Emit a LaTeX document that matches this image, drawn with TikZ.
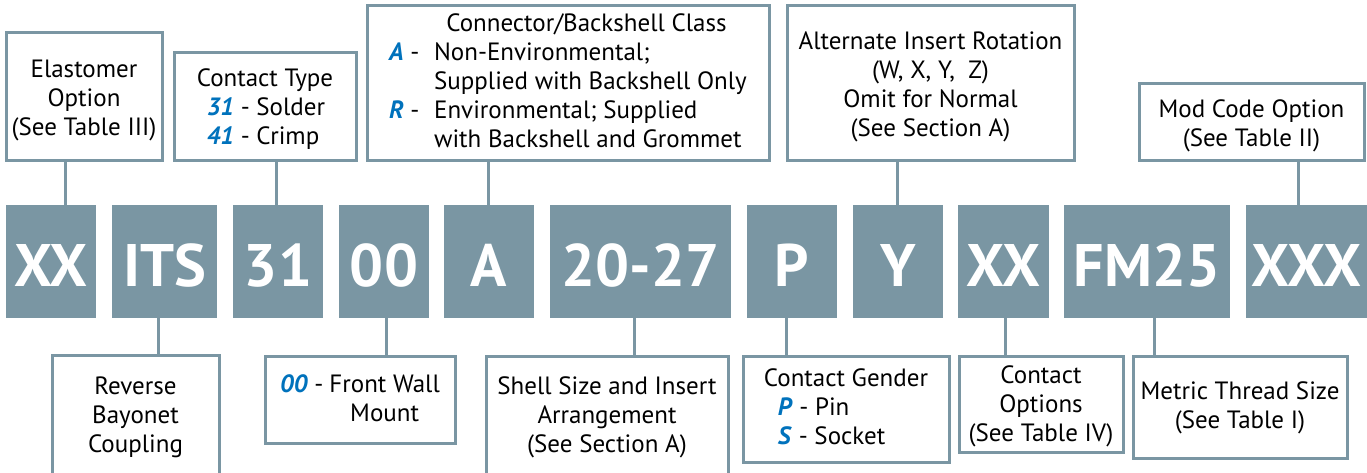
\documentclass[tikz,border=0pt]{standalone}
\usepackage{fontspec}
\setmainfont{PT Sans}
\definecolor{pgray}{RGB}{122,150,163}
\definecolor{pblue}{RGB}{0,114,188}
\newcommand{\bl}[1]{\textcolor{pblue}{\textbf{\textit{#1}}}}
\newcommand{\lowr}[2]{\raisebox{-#1}[\height][\depth]{#2}}
\begin{document}
\begin{tikzpicture}[x=1pt,y=-1pt,
  lbl/.style={draw=pgray, line width=3pt, fill=white, inner sep=0pt, outer sep=0pt,
    anchor=north west, align=center, text=black, font=\fontsize{25}{29}\selectfont},
  code/.style={fill=pgray, inner sep=0pt, outer sep=0pt, anchor=north west,
    minimum height=113pt, text=white, font=\fontsize{60}{60}\selectfont\bfseries,
    text height=49pt, text depth=0pt},
  conn/.style={draw=pgray, line width=3pt}]
\useasboundingbox (0,0) rectangle (1367,472);
\fill[white] (0,0) rectangle (1367,472);
% code boxes
\node[code, minimum width=90pt]  (cxa)  at (6,205)    {XX};
\node[code, minimum width=105pt] (cits) at (112,205)  {ITS};
\node[code, minimum width=90pt]  (c31)  at (233,205)  {31};
\node[code, minimum width=90pt]  (c00)  at (339,205)  {00};
\node[code, minimum width=90pt]  (ca)   at (444,205)  {A};
\node[code, minimum width=181pt] (csz)  at (550,205)  {20-27};
\node[code, minimum width=90pt]  (cp)   at (747,205)  {P};
\node[code, minimum width=90pt]  (cy)   at (853,205)  {Y};
\node[code, minimum width=91pt]  (cxb)  at (958,205)  {XX};
\node[code, minimum width=166pt] (cfm)  at (1064,205) {FM25};
\node[code, minimum width=121pt] (cxc)  at (1246,205) {XXX};
% top label boxes
\node[lbl, minimum width=156pt, minimum height=128pt] (elast) at (6,32)
  {\lowr{5pt}{\begin{tabular}{@{}c@{}}Elastomer\\Option\\(See Table III)\end{tabular}}};
\node[lbl, minimum width=182pt, minimum height=108pt] (ctype) at (174,52)
  {\lowr{4pt}{\begin{tabular}{@{}l@{}}Contact Type\\\hspace{10pt}\bl{31} - Solder\\\hspace{10pt}\bl{41} - Crimp\end{tabular}}};
\node[lbl, minimum width=402pt, minimum height=155pt] (cclass) at (367,5)
  {\lowr{1pt}{\begin{tabular}{@{}p{45pt}@{}l@{}}
   & \multicolumn{1}{c@{}}{\hspace{-14pt}Connector/Backshell Class}\\
   \bl{A} - & Non-Environmental;\\
   & Supplied with Backshell Only\\
   \bl{R} - & Environmental; Supplied\\
   & with Backshell and Grommet
   \end{tabular}}};
\node[lbl, minimum width=287pt, minimum height=155pt] (alt) at (787,5)
  {\lowr{5pt}{\begin{tabular}{@{}c@{}}Alternate Insert Rotation\\(W, X, Y,\ \ Z)\\Omit for Normal\\(See Section A)\end{tabular}}};
\node[lbl, minimum width=225pt, minimum height=77pt] (mod) at (1139,83)
  {\lowr{5pt}{\begin{tabular}{@{}c@{}}Mod Code Option\\(See Table II)\end{tabular}}};
% bottom label boxes
\node[lbl, minimum width=167pt, minimum height=125pt] (rev) at (52,355)
  {\begin{tabular}{@{}c@{}}Reverse\\Bayonet\\Coupling\end{tabular}};
\node[lbl, minimum width=190pt, minimum height=87pt] (front) at (265,356)
  {\lowr{2pt}{\begin{tabular}{@{}l@{\hspace{6pt}}c@{}}\bl{00} - & Front Wall\\ & Mount\end{tabular}}};
\node[lbl, minimum width=242pt, minimum height=124pt] (shell) at (486,356)
  {\begin{tabular}{@{}c@{}}Shell Size and Insert\\Arrangement\\(See Section A)\end{tabular}};
\node[lbl, minimum width=206pt, minimum height=106pt] (gender) at (743,356)
  {\lowr{1pt}{\begin{tabular}{@{}l@{}}Contact Gender\\\hspace{14pt}\bl{P} - Pin\\\hspace{14pt}\bl{S} - Socket\end{tabular}}};
\node[lbl, minimum width=164pt, minimum height=96pt] (opts) at (959,356)
  {\lowr{3pt}{\begin{tabular}{@{}c@{}}Contact\\Options\\(See Table IV)\end{tabular}}};
\node[lbl, minimum width=214pt, minimum height=102pt] (metric) at (1133,356)
  {\lowr{1.5pt}{\begin{tabular}{@{}c@{}}Metric Thread Size\\(See Table I)\end{tabular}}};
% connector x positions
\coordinate (k1) at (65,0);
\coordinate (k2) at (276,0);
\coordinate (k3) at (488,0);
\coordinate (k4) at (897,0);
\coordinate (k5) at (1298,0);
\coordinate (b1) at (158,0);
\coordinate (b2) at (386,0);
\coordinate (b3) at (634,0);
\coordinate (b4) at (786,0);
\coordinate (b5) at (1005,0);
\coordinate (b6) at (1154,0);
\draw[conn] (elast.south -| k1) -- (cxa.north -| k1);
\draw[conn] (ctype.south -| k2) -- (c31.north -| k2);
\draw[conn] (cclass.south -| k3) -- (ca.north -| k3);
\draw[conn] (alt.south -| k4) -- (cy.north -| k4);
\draw[conn] (mod.south -| k5) -- (cxc.north -| k5);
\draw[conn] (cits.south -| b1) -- (rev.north -| b1);
\draw[conn] (c00.south -| b2) -- (front.north -| b2);
\draw[conn] (csz.south -| b3) -- (shell.north -| b3);
\draw[conn] (cp.south -| b4) -- (gender.north -| b4);
\draw[conn] (cxb.south -| b5) -- (opts.north -| b5);
\draw[conn] (cfm.south -| b6) -- (metric.north -| b6);
\end{tikzpicture}
\end{document}
